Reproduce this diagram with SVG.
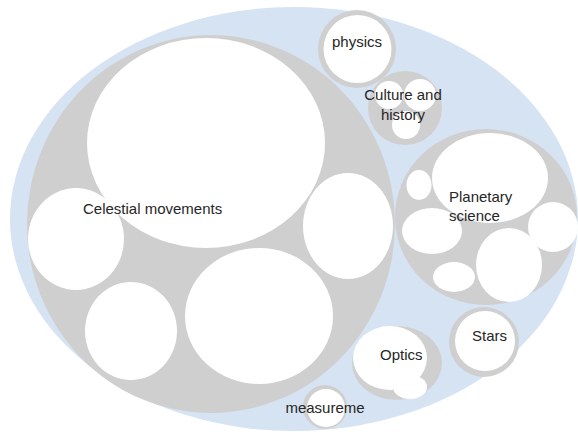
<svg xmlns="http://www.w3.org/2000/svg" width="578" height="440" viewBox="0 0 578 440">
<style>
.outer{fill:#d5e3f3}
.grp{fill:#d0cfcf}
.leaf{fill:#ffffff}
.lbl{font-family:"Liberation Sans",Arial,sans-serif;font-size:15px;fill:#262626}
.mid{text-anchor:middle}
</style>
<rect width="578" height="440" fill="#ffffff"/>
<g id="root">
<ellipse class="outer" cx="294" cy="219" rx="284" ry="212"/>
</g>
<g id="connectors"></g>
<g id="celestial">
<ellipse class="grp" cx="211" cy="224" rx="184" ry="189"/>
<ellipse class="leaf" cx="206" cy="143" rx="119" ry="105"/>
<ellipse class="leaf" cx="76" cy="239" rx="48" ry="51"/>
<ellipse class="leaf" cx="131" cy="331" rx="46" ry="49"/>
<ellipse class="leaf" cx="259" cy="316" rx="74" ry="68"/>
<ellipse class="leaf" cx="348" cy="226" rx="45" ry="53"/>
<text class="lbl" x="83" y="214">Celestial movements</text>
</g>
<g id="physics">
<circle class="grp" cx="357" cy="49" r="39"/>
<circle class="leaf" cx="357.5" cy="49" r="34"/>
<text class="lbl mid" x="357" y="47">physics</text>
</g>
<g id="culture">
<circle class="grp" cx="405" cy="108" r="37"/>
<circle class="leaf" cx="389" cy="95" r="14"/>
<circle class="leaf" cx="420" cy="95" r="16"/>
<circle class="leaf" cx="406" cy="125" r="14"/>
<text class="lbl mid" x="403" y="100">Culture and</text>
<text class="lbl mid" x="403" y="120">history</text>
</g>
<g id="planetary">
<ellipse class="grp" cx="486" cy="217" rx="91" ry="88"/>
<ellipse class="leaf" cx="490" cy="178" rx="58" ry="45"/>
<ellipse class="leaf" cx="419" cy="185" rx="12.5" ry="15"/>
<ellipse class="leaf" cx="432" cy="231" rx="30" ry="23"/>
<ellipse class="leaf" cx="553" cy="227" rx="25" ry="25"/>
<ellipse class="leaf" cx="509" cy="265" rx="33" ry="37"/>
<ellipse class="leaf" cx="454" cy="277" rx="21" ry="15"/>
<text class="lbl" x="449" y="202">Planetary</text>
<text class="lbl" x="449" y="221">science</text>
</g>
<g id="stars">
<circle class="grp" cx="484" cy="342" r="35"/>
<circle class="leaf" cx="485" cy="341" r="30"/>
<text class="lbl" x="472" y="341">Stars</text>
</g>
<g id="optics">
<ellipse class="grp" cx="397" cy="363" rx="45" ry="37"/>
<ellipse class="leaf" cx="390" cy="358" rx="37" ry="32"/>
<ellipse class="leaf" cx="410" cy="387" rx="17" ry="12"/>
<text class="lbl" x="380" y="360">Optics</text>
</g>
<g id="measurement">
<circle class="grp" cx="325" cy="407" r="22"/>
<circle class="leaf" cx="326" cy="408" r="19"/>
<text class="lbl mid" x="325" y="413">measureme</text>
</g>
</svg>
